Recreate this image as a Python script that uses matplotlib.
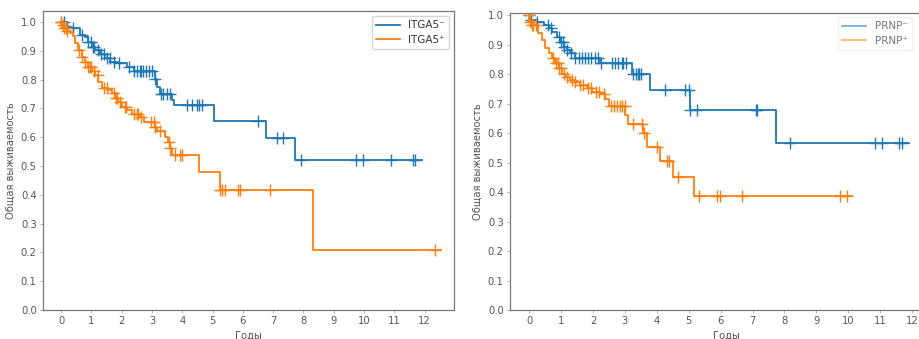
import numpy as np
import matplotlib
matplotlib.use("Agg")
import matplotlib.pyplot as plt

# ---------------- data ----------------
# Left panel: ITGA5
itga5_neg_t = [0.0, 0.19, 0.35, 0.63, 0.80, 0.90, 1.01, 1.12, 1.29, 1.45, 1.62, 1.89, 2.17, 2.39, 2.99, 3.10, 3.16, 3.27, 3.65, 3.71, 5.06, 6.77, 7.73, 11.91]
itga5_neg_s = [1.0, 0.984, 0.978, 0.955, 0.949, 0.930, 0.914, 0.903, 0.889, 0.874, 0.862, 0.856, 0.845, 0.831, 0.828, 0.801, 0.773, 0.749, 0.729, 0.712, 0.657, 0.598, 0.521, 0.521]
itga5_neg_c = [0.0, 0.08, 0.2, 0.38, 0.68, 0.9, 0.98, 1.05, 1.1, 1.2, 1.3, 1.4, 1.5, 1.6, 1.75, 1.9,
               2.25, 2.4, 2.5, 2.6, 2.65, 2.7, 2.8, 2.9, 3.0, 3.1, 3.3, 3.35, 3.5, 3.6,
               4.15, 4.31, 4.48, 4.56, 4.65, 6.49, 7.12, 7.34, 7.93, 9.74, 9.98, 10.9, 11.61, 11.69]

itga5_pos_t = [0.0, 0.01, 0.1, 0.2, 0.3, 0.4, 0.46, 0.57, 0.68, 0.79, 0.90, 1.01, 1.12, 1.23, 1.34, 1.51, 1.67, 1.78, 1.89, 2.0, 2.17, 2.33, 2.61, 2.72, 3.10, 3.16, 3.43, 3.54, 3.60, 3.65, 4.56, 5.23, 8.33, 12.54]
itga5_pos_s = [1.0, 0.99, 0.98, 0.97, 0.96, 0.95, 0.926, 0.903, 0.88, 0.862, 0.845, 0.828, 0.816, 0.793, 0.770, 0.764, 0.752, 0.735, 0.723, 0.706, 0.694, 0.679, 0.671, 0.654, 0.637, 0.622, 0.602, 0.584, 0.561, 0.538, 0.478, 0.417, 0.208, 0.208]
itga5_pos_c = [0.0, 0.05, 0.1, 0.15, 0.2, 0.6, 0.7, 0.8, 0.9, 0.95, 1.0, 1.1, 1.2, 1.4, 1.5, 1.75, 1.8, 1.85, 1.95,
               2.1, 2.15, 2.4, 2.5, 2.55, 2.65, 2.95, 3.05, 3.1, 3.25, 3.55, 3.6, 3.76, 3.93, 4.0,
               5.25, 5.31, 5.42, 5.83, 5.91, 6.88, 12.35]

# Right panel: PRNP
prnp_neg_t = [0.0, 0.01, 0.24, 0.45, 0.61, 0.71, 0.87, 0.97, 1.08, 1.18, 1.29, 1.44, 2.23, 3.22, 3.79, 5.05, 7.74, 11.89]
prnp_neg_s = [1.0, 0.983, 0.977, 0.966, 0.955, 0.944, 0.927, 0.910, 0.893, 0.881, 0.870, 0.856, 0.836, 0.800, 0.746, 0.678, 0.565, 0.565]
prnp_neg_c = [0.0, 0.05, 0.25, 0.6, 0.7, 0.95, 1.0, 1.05, 1.1, 1.2, 1.3, 1.45, 1.55, 1.65, 1.75, 1.85, 1.95,
              2.05, 2.15, 2.25, 2.6, 2.7, 2.8, 2.9, 2.95, 3.05, 3.25, 3.35, 3.4, 3.45, 3.5,
              4.26, 4.89, 5.0, 5.05, 5.26, 7.12, 7.14, 8.18, 10.85, 11.06, 11.58, 11.68]

prnp_pos_t = [0.0, 0.01, 0.08, 0.29, 0.40, 0.50, 0.61, 0.71, 0.82, 0.92, 1.02, 1.13, 1.29, 1.44, 1.60, 1.81, 1.97, 2.23, 2.38, 2.49, 3.01, 3.11, 3.58, 3.69, 4.11, 4.52, 5.18, 10.12]
prnp_pos_s = [1.0, 0.977, 0.966, 0.938, 0.915, 0.887, 0.870, 0.853, 0.836, 0.819, 0.800, 0.789, 0.780, 0.774, 0.763, 0.751, 0.740, 0.734, 0.715, 0.692, 0.661, 0.631, 0.599, 0.554, 0.506, 0.452, 0.386, 0.386]
prnp_pos_c = [0.0, 0.03, 0.08, 0.12, 0.2, 0.75, 0.85, 0.9, 0.95, 1.0, 1.1, 1.2, 1.35, 1.45, 1.6, 1.7, 1.85, 1.95,
              2.1, 2.2, 2.35, 2.55, 2.65, 2.75, 2.85, 2.9, 3.0, 3.27, 3.55, 3.6, 4.0, 4.32, 4.37, 4.65,
              5.31, 5.88, 5.97, 6.67, 9.75, 9.96]

xticks = list(range(0, 13))
yticks = [0.0, 0.1, 0.2, 0.3, 0.4, 0.5, 0.6, 0.7, 0.8, 0.9, 1.0]
xlabel = "Годы"
ylabel = "Общая выживаемость"

BLUE = "#1f77b4"
ORANGE = "#ff7f0e"
TXT = "#555555"

plt.rcParams['font.family'] = ['DejaVu Sans']

fig = plt.figure(figsize=(9.2, 3.39), dpi=100)
ax1 = fig.add_axes([43 / 920, 1 - 310 / 339, 411 / 920, 299 / 339])
ax2 = fig.add_axes([510 / 920, 1 - 310 / 339, 433 / 920, 297.3 / 339])


def surv_at(times, surv, c):
    times = np.asarray(times)
    surv = np.asarray(surv)
    idx = np.searchsorted(times, np.asarray(c), side='right') - 1
    idx = np.clip(idx, 0, len(surv) - 1)
    return surv[idx]


def km(ax, t, s, c, color, label):
    ax.step(t, s, where='post', color=color, lw=1.3, label=label)
    ax.plot(c, surv_at(t, s, c), ls='none', marker='+', ms=9, mew=1.0, color=color)


def style(ax, ylim_top, xlim):
    ax.set_xlim(*xlim)
    ax.set_ylim(0.0, ylim_top)
    ax.set_xticks(xticks)
    ax.set_yticks(yticks)
    ax.set_xticklabels([str(v) for v in xticks])
    ax.set_yticklabels([f"{v:.1f}" for v in yticks])
    ax.tick_params(labelsize=7.2, colors=TXT, length=2.5, width=0.6, pad=2)
    ax.tick_params(axis='x', colors="#aaaaaa", labelcolor=TXT)
    ax.tick_params(axis='y', colors="#aaaaaa", labelcolor=TXT)
    for sp in ax.spines.values():
        sp.set_color("#777777")
        sp.set_linewidth(0.9)
    ax.set_xlabel(xlabel, fontsize=7.2, color=TXT, labelpad=3)
    ax.set_ylabel(ylabel, fontsize=7.2, color=TXT, labelpad=4)


km(ax1, itga5_neg_t, itga5_neg_s, itga5_neg_c, BLUE, "ITGA5\u207b")
km(ax1, itga5_pos_t, itga5_pos_s, itga5_pos_c, ORANGE, "ITGA5\u207a")
style(ax1, 1.038, (-0.6, 12.97))
leg1 = ax1.legend(loc='upper right', fontsize=7.5, frameon=True, borderaxespad=0.5,
                  handlelength=2.3, labelspacing=0.4, edgecolor="#cccccc", fancybox=True)
for txt in leg1.get_texts():
    txt.set_color("#333333")

km(ax2, prnp_neg_t, prnp_neg_s, prnp_neg_c, BLUE, "PRNP\u207b")
km(ax2, prnp_pos_t, prnp_pos_s, prnp_pos_c, ORANGE, "PRNP\u207a")
style(ax2, 1.008, (-0.6, 12.97))
leg2 = ax2.legend(loc='upper right', bbox_to_anchor=(917 / 920, 1 - 12 / 339),
                  bbox_transform=fig.transFigure, fontsize=7.5, frameon=True,
                  handlelength=2.3, labelspacing=0.4, edgecolor="#eeeeee", fancybox=True)
for txt in leg2.get_texts():
    txt.set_color("#777777")
for h in leg2.get_lines():
    h.set_alpha(0.6)

fig.savefig("out.png", dpi=100)
